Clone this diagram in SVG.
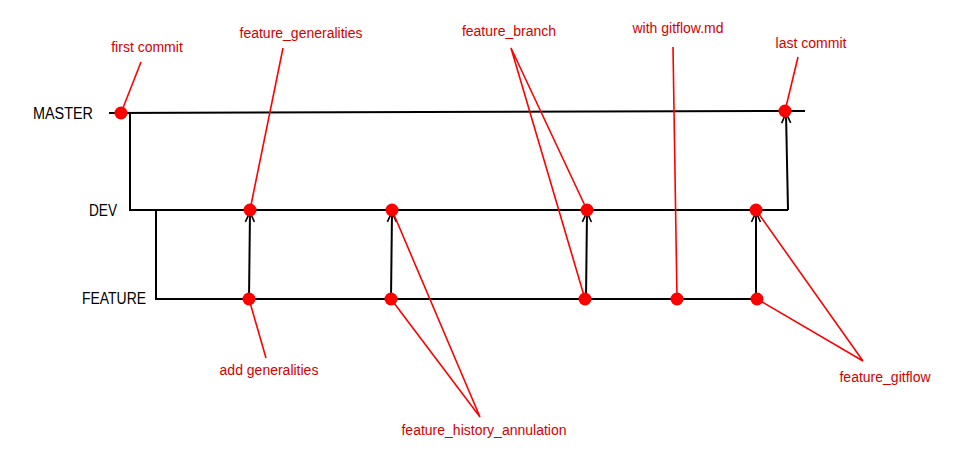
<svg xmlns="http://www.w3.org/2000/svg" width="956" height="450" viewBox="0 0 956 450">
<defs>
<marker id="open" markerWidth="14" markerHeight="12" refX="12" refY="6" orient="auto" markerUnits="userSpaceOnUse" viewBox="0 0 14 12">
<path d="M2,1.5 L12,6 L2,10.5" fill="none" stroke="#000" stroke-width="1.6"/>
</marker>
</defs>
<style>
.br{fill:none;stroke:#000;stroke-width:2}
.ar{fill:none;stroke:#000;stroke-width:2}
.ld{fill:none;stroke:#ff0000;stroke-width:1.6}
.dot{fill:#ff0000}
.lbl{font-family:"Liberation Sans",Arial,sans-serif;font-size:16px;fill:#000}
.rl{font-family:"Liberation Sans",Arial,sans-serif;font-size:14px;fill:#d40000;text-anchor:middle}
</style>
<rect width="956" height="450" fill="#fff"/>
<g id="branches">
<text class="lbl" x="33" y="119" textLength="60" lengthAdjust="spacingAndGlyphs">MASTER</text>
<text class="lbl" x="89" y="216" textLength="28" lengthAdjust="spacingAndGlyphs">DEV</text>
<text class="lbl" x="82" y="304" textLength="64" lengthAdjust="spacingAndGlyphs">FEATURE</text>
</g>
<g id="connectors">
<path class="br" d="M109,113 L805,111"/>
<path class="br" d="M130,113 L130,210 L788,210"/>
<path class="br" d="M156,210 L156,299 L757,299"/>
<path class="ar" d="M788,210 L786,113" marker-end="url(#open)"/>
<path class="ar" d="M249,299 L250,212" marker-end="url(#open)"/>
<path class="ar" d="M391,299 L392,212" marker-end="url(#open)"/>
<path class="ar" d="M586,299 L587,212" marker-end="url(#open)"/>
<path class="ar" d="M756,299 L756,212" marker-end="url(#open)"/>
<path class="ld" d="M141,62 L121,113"/>
<path class="ld" d="M283,48 L250,210"/>
<path class="ld" d="M587,210 L511,48 L585,299"/>
<path class="ld" d="M673,47 L677,299"/>
<path class="ld" d="M798,57 L785,111"/>
<path class="ld" d="M249,299 L266,358"/>
<path class="ld" d="M392,210 L480,417 L391,299"/>
<path class="ld" d="M756,210 L863,361 L757,299"/>
</g>
<g id="commits">
<circle class="dot" cx="121" cy="113" r="6.5"/>
<circle class="dot" cx="785" cy="111" r="6.5"/>
<circle class="dot" cx="250" cy="210" r="6.5"/>
<circle class="dot" cx="392" cy="210" r="6.5"/>
<circle class="dot" cx="587" cy="210" r="6.5"/>
<circle class="dot" cx="756" cy="210" r="6.5"/>
<circle class="dot" cx="249" cy="299" r="6.5"/>
<circle class="dot" cx="391" cy="299" r="6.5"/>
<circle class="dot" cx="585" cy="299" r="6.5"/>
<circle class="dot" cx="677" cy="299" r="6.5"/>
<circle class="dot" cx="757" cy="299" r="6.5"/>
</g>
<g id="labels">
<text class="rl" x="147" y="52">first commit</text>
<text class="rl" x="301" y="38">feature_generalities</text>
<text class="rl" x="509" y="36">feature_branch</text>
<text class="rl" x="678" y="33">with gitflow.md</text>
<text class="rl" x="811" y="48">last commit</text>
<text class="rl" x="269" y="375">add generalities</text>
<text class="rl" x="484" y="435">feature_history_annulation</text>
<text class="rl" x="885" y="382">feature_gitflow</text>
</g>
</svg>
